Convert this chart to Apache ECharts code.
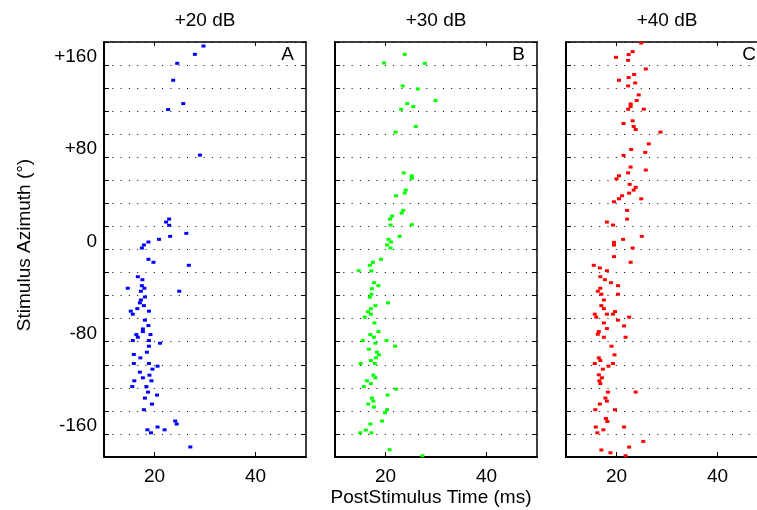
<!DOCTYPE html>
<html lang="en">
    <head>
        <meta charset="utf-8">
        <title>raster azimuth</title>
        <script src="https://cdn.jsdelivr.net/npm/echarts@6/dist/echarts.min.js"></script>
        <style media="screen">
            body {
                margin: 0;
                background: #fff;
            }
            #main {
                width: 757px;
                height: 510px;
            }
        </style>
    </head>
    <body>
        <div id="main"></div>
        <script>
            // spikes: [post-stimulus time (ms), azimuth (deg)]
            var spikesA = [
                [29.7,176.5],[28.0,169.3],[24.5,161.5],[23.7,146.8],[25.7,126.6],[22.7,121.4],[29.0,81.9],
                [22.9,26.4],[22.3,23.8],[22.9,21.0],[26.3,14.0],[23.1,11.4],[20.9,8.8],[18.8,6.5],[17.9,3.9],[17.5,1.3],
                [18.8,-8.5],[19.8,-11.1],[26.8,-13.7],[16.7,-23.6],[17.6,-26.2],[17.5,-31.4],[14.7,-33.6],[18.0,-33.6],
                [17.3,-36.2],[24.9,-36.2],[18.1,-41.2],[17.3,-43.8],[17.1,-46.3],[17.9,-48.7],[16.6,-51.3],[15.3,-53.5],
                [18.9,-53.5],[15.7,-56.1],[18.1,-61.3],[18.8,-66.0],[17.7,-68.9],[17.7,-71.2],[16.4,-73.8],[19.2,-73.8],
                [16.7,-76.1],[15.7,-79.0],[18.9,-79.0],[21.1,-81.3],[18.9,-83.9],[18.5,-89.1],[15.9,-91.1],[17.2,-94.0],
                [15.9,-98.9],[18.9,-98.9],[20.6,-101.2],[19.6,-103.8],[17.1,-106.4],[19.0,-109.0],[17.7,-111.3],
                [16.0,-113.9],[19.4,-113.9],[15.6,-118.9],[18.4,-118.9],[18.7,-123.7],[20.5,-126.3],[18.1,-128.9],
                [19.5,-134.1],[17.9,-139.0],[24.1,-148.8],[24.4,-151.4],[20.6,-154.0],[18.6,-156.4],[22.0,-156.4],
                [19.3,-159.0],[27.1,-171.3]
            ]
            var spikesB = [
                [23.8,169.3],[19.7,161.8],[27.8,161.5],[23.4,141.9],[26.4,139.3],[29.9,129.2],[24.3,126.6],[25.5,124.0],
                [23.1,121.7],[26.0,106.7],[22.0,101.8],[23.6,66.5],[25.2,63.9],[25.2,61.7],[24.0,51.5],[23.8,49.0],
                [22.1,46.6],[23.5,33.9],[23.2,31.6],[21.3,29.0],[20.9,26.4],[21.0,21.2],[25.2,21.5],[22.8,11.4],
                [20.6,8.8],[21.1,6.5],[20.3,3.9],[21.0,1.3],[19.1,-8.5],[17.5,-11.1],[16.9,-13.7],[14.7,-18.4],
                [17.2,-18.6],[17.7,-28.8],[18.6,-31.4],[17.3,-34.0],[17.2,-38.8],[16.9,-41.4],[20.5,-46.3],[18.0,-48.7],
                [17.1,-51.3],[16.5,-53.9],[17.1,-56.1],[15.9,-58.7],[17.8,-63.7],[18.6,-71.2],[17.0,-73.8],[17.7,-76.1],
                [15.5,-79.0],[20.2,-79.0],[18.0,-81.3],[21.9,-83.9],[16.7,-86.5],[18.3,-89.1],[18.7,-91.4],[18.1,-94.0],
                [17.1,-96.3],[15.1,-98.9],[17.9,-98.9],[17.6,-109.0],[18.0,-111.3],[16.3,-113.9],[17.1,-116.3],
                [15.7,-118.9],[22.1,-121.1],[20.4,-126.3],[17.3,-128.9],[17.6,-131.5],[16.6,-134.1],[17.7,-136.7],
                [20.3,-139.0],[19.9,-141.6],[19.3,-148.8],[17.0,-151.4],[16.1,-156.6],[15.0,-159.0],[17.2,-159.0],
                [20.8,-173.7],[27.3,-178.9]
            ]
            var spikesC = [
                [24.9,179.1],[23.2,171.7],[22.4,169.1],[19.9,166.7],[22.3,164.1],[25.8,156.6],[23.5,151.8],[22.4,149.2],
                [20.5,146.8],[23.7,144.5],[22.3,141.9],[24.4,134.1],[24.0,129.2],[22.8,126.3],[22.8,124.0],[22.3,121.7],
                [25.4,121.7],[23.2,111.6],[21.4,109.3],[23.4,106.7],[23.8,104.1],[28.7,101.8],[26.4,91.6],[22.9,86.8],
                [25.7,84.2],[21.4,81.6],[22.8,71.5],[25.8,68.9],[22.3,66.5],[20.5,63.9],[20.0,61.3],[22.6,56.5],
                [23.8,53.9],[23.4,51.5],[22.5,48.9],[21.1,46.6],[20.5,44.0],[24.9,44.0],[19.5,41.4],[22.1,33.9],
                [22.1,26.4],[18.1,23.8],[19.3,21.2],[25.0,11.4],[21.3,8.8],[19.5,6.2],[19.5,3.9],[23.2,1.3],
                [19.5,-6.2],[22.8,-11.1],[15.5,-13.7],[16.7,-16.0],[18.1,-18.4],[16.8,-23.6],[17.7,-26.2],[18.9,-28.8],
                [20.3,-31.4],[16.8,-33.6],[16.3,-36.2],[17.0,-38.8],[20.3,-38.8],[17.5,-43.8],[17.0,-48.7],[17.5,-51.3],
                [19.7,-53.9],[15.7,-56.1],[16.0,-58.7],[18.1,-56.1],[19.3,-56.1],[22.5,-58.7],[20.3,-61.3],[17.5,-63.7],
                [21.5,-66.3],[18.1,-68.6],[16.5,-71.2],[16.3,-73.5],[17.5,-76.1],[21.8,-76.1],[19.0,-83.9],[19.6,-91.4],
                [16.5,-94.0],[16.8,-96.3],[15.7,-98.9],[19.3,-98.9],[18.4,-101.2],[17.3,-103.8],[16.5,-108.7],
                [17.1,-111.3],[16.6,-113.9],[16.8,-116.3],[18.3,-123.7],[23.8,-123.7],[17.8,-128.9],[18.1,-131.5],
                [16.7,-134.1],[15.8,-139.0],[19.7,-139.0],[17.9,-146.6],[18.2,-149.2],[15.9,-154.0],[21.5,-154.0],
                [17.4,-156.4],[16.2,-159.0],[25.3,-166.5],[22.5,-171.4],[17.0,-173.9],[18.8,-176.3],[21.8,-178.9]
            ]

            var panelTitles = ['+20 dB', '+30 dB', '+40 dB']
            var panelLetters = ['A', 'B', 'C']
            var panelColors = ['#0000ff', '#00ff00', '#ff0000']
            var xTicks = [20, 40]
            var yTickLabels = ['+160', '+80', '0', '-80', '-160']
            var yLabelAt = [167, 87, 7, -73, -153]

            var font = "'Liberation Sans', Arial, Helvetica, sans-serif"
            var fs = 19
            var gridLeft = [104, 335, 566]
            var gridW = 202
            var gridTop = 42
            var gridH = 415

            var element = document.querySelector('#main')
            var myChart = echarts.init(element, null, {renderer: 'canvas'})

            var spikes = [spikesA, spikesB, spikesC]
            var grid = []
            var xAxis = []
            var yAxis = []
            var series = []
            var graphic = []

            for (var i = 0; i < 3; i++) {
                // panel C runs past the right edge of the picture, so no bounds clamping
                grid.push({left: gridLeft[i], top: gridTop, width: gridW, height: gridH, outerBoundsMode: 'none', containLabel: false})
                // bottom + top x axes
                xAxis.push({
                    gridIndex: i, type: 'value', min: 10, max: 50, position: 'bottom',
                    axisLine: {show: true, onZero: false, lineStyle: {color: '#000', width: 2}},
                    axisTick: {inside: true, length: 5, customValues: xTicks, lineStyle: {color: '#000'}},
                    axisLabel: {customValues: xTicks, color: '#000', fontFamily: font, fontSize: fs, margin: 10},
                    splitLine: {show: false}
                })
                xAxis.push({
                    gridIndex: i, type: 'value', min: 10, max: 50, position: 'top',
                    axisLine: {show: true, onZero: false, lineStyle: {color: '#000', width: 1.5}},
                    axisTick: {inside: true, length: 4, customValues: xTicks, lineStyle: {color: '#000'}},
                    axisLabel: {show: false},
                    splitLine: {show: false}
                })
                // left + right y axes
                yAxis.push({
                    gridIndex: i, type: 'value', min: -180, max: 180, interval: 20, position: 'left',
                    axisLine: {show: true, onZero: false, lineStyle: {color: '#000', width: 2}},
                    axisTick: {inside: true, length: 5, lineStyle: {color: '#000'}},
                    axisLabel: {
                        show: i == 0,
                        customValues: yLabelAt,
                        color: '#000', fontFamily: font, fontSize: fs, margin: 7,
                        formatter: function(v) {
                            var k = yLabelAt.indexOf(v)
                            return k >= 0 ? yTickLabels[k] : ''
                        }
                    },
                    splitLine: {show: true, lineStyle: {color: '#000', width: 1, type: [1, 7.3]}}
                })
                yAxis.push({
                    gridIndex: i, type: 'value', min: -180, max: 180, interval: 20, position: 'right',
                    axisLine: {show: true, onZero: false, lineStyle: {color: '#000', width: 1.5}},
                    axisTick: {inside: true, length: 5, lineStyle: {color: '#000'}},
                    axisLabel: {show: false},
                    splitLine: {show: false}
                })
                series.push({
                    type: 'scatter',
                    xAxisIndex: i * 2,
                    yAxisIndex: i * 2,
                    symbol: 'rect',
                    symbolSize: [4, 3],
                    itemStyle: {color: panelColors[i], opacity: 1},
                    data: spikes[i]
                })
                graphic.push({
                    type: 'text', x: gridLeft[i] + gridW / 2, y: 21,
                    style: {text: panelTitles[i], fill: '#000', font: fs + 'px ' + font, textAlign: 'center', textVerticalAlign: 'middle'}
                })
                graphic.push({
                    type: 'text', x: gridLeft[i] + gridW - 12, y: 55,
                    style: {text: panelLetters[i], fill: '#000', font: fs + 'px ' + font, textAlign: 'right', textVerticalAlign: 'middle'}
                })
            }

            graphic.push({
                type: 'text', x: 431, y: 498,
                style: {text: 'PostStimulus Time (ms)', fill: '#000', font: fs + 'px ' + font, textAlign: 'center', textVerticalAlign: 'middle'}
            })
            graphic.push({
                type: 'text', x: 25, y: 245, rotation: Math.PI / 2,
                style: {text: 'Stimulus Azimuth (°)', fill: '#000', font: fs + 'px ' + font, textAlign: 'center', textVerticalAlign: 'middle'}
            })

            var option = {
                animation: false,
                backgroundColor: '#fff',
                grid: grid,
                xAxis: xAxis,
                yAxis: yAxis,
                series: series,
                graphic: graphic
            }
            myChart.setOption(option)
        </script>
    </body>
</html>
